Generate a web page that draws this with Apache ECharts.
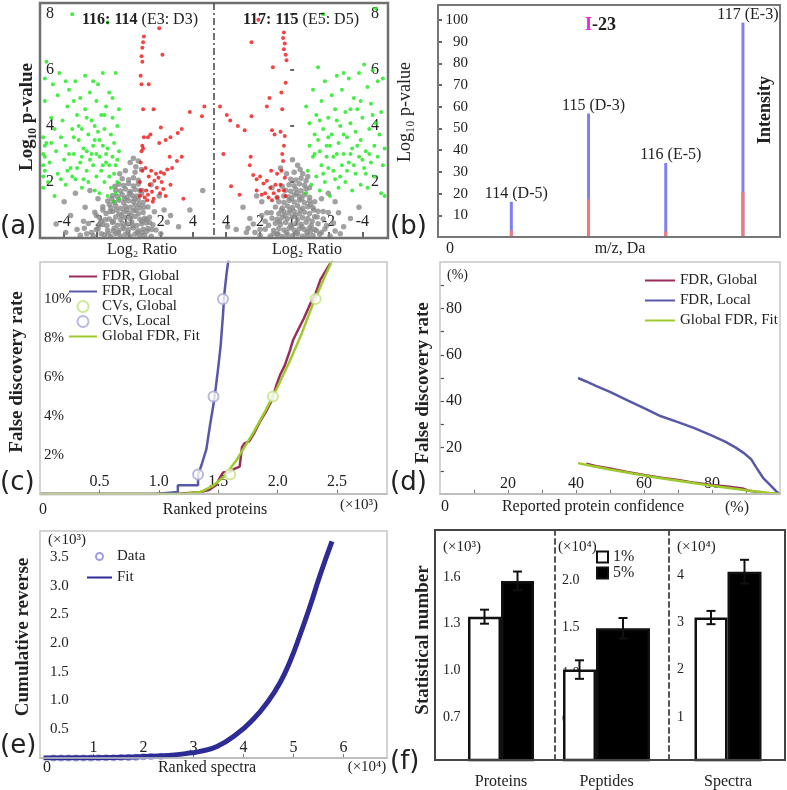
<!DOCTYPE html>
<html><head><meta charset="utf-8">
<script src="https://cdn.jsdelivr.net/npm/echarts@6/dist/echarts.min.js"></script>
<style>html,body{margin:0;padding:0;background:#fff}#c{width:787px;height:790px}</style>
</head><body><div id="c"></div>
<script>
// ---------- (a) volcano plots ----------
const aTicksX = [-4, -2, 0, 2, 4];
const aTicksY = [2, 4, 6, 8];
const grayL = [
[-2.2,0.08],[-1.5,0.12],[-1.1,0.05],[-0.8,0.15],[-0.5,0.07],[-0.2,0.13],[0.1,0.06],[0.4,0.14],[0.7,0.09],[1.0,0.11],[1.4,0.06],[2.0,0.15],
[-1.9,0.32],[-1.3,0.28],[-0.9,0.35],[-0.6,0.27],[-0.3,0.33],[0.0,0.3],[0.3,0.36],[0.6,0.26],[0.9,0.31],[1.2,0.34],[1.7,0.29],
[-2.5,0.52],[-1.6,0.48],[-1.0,0.55],[-0.7,0.46],[-0.4,0.53],[-0.1,0.5],[0.2,0.57],[0.5,0.45],[0.8,0.51],[1.1,0.54],[1.5,0.47],[2.4,0.56],
[-1.8,0.72],[-1.2,0.68],[-0.8,0.75],[-0.5,0.66],[-0.2,0.73],[0.1,0.7],[0.4,0.77],[0.7,0.67],[1.0,0.71],[1.3,0.74],
[-2.1,0.92],[-1.4,0.88],[-1.0,0.95],[-0.6,0.86],[-0.3,0.93],[0.0,0.9],[0.3,0.97],[0.6,0.87],[0.9,0.91],[1.6,0.94],
[-1.6,1.12],[-1.1,1.08],[-0.8,1.15],[-0.5,1.06],[-0.2,1.13],[0.1,1.1],[0.4,1.17],[0.7,1.07],[1.2,1.11],
[-1.3,1.32],[-0.9,1.28],[-0.6,1.35],[-0.3,1.26],[0.0,1.33],[0.3,1.3],[0.6,1.36],[0.9,1.27],
[-1.0,1.52],[-0.7,1.48],[-0.4,1.55],[-0.1,1.46],[0.2,1.53],[0.5,1.5],[0.8,1.56],
[-0.8,1.72],[-0.5,1.68],[-0.2,1.75],[0.1,1.66],[0.4,1.73],[0.7,1.7],
[-0.6,1.92],[-0.3,1.88],[0.0,1.95],[0.3,1.86],[0.6,1.93],
[-0.4,2.12],[0.0,2.08],[0.3,2.15],[0.6,2.06],
[-0.2,2.4],[0.4,2.35],[0.8,2.45],[0.1,2.7],[0.6,2.75],
[-4.0,1.3],[-3.6,0.8],[-3.2,0.3],[-2.8,0.6],[-2.7,1.1],[-3.9,0.2],[-4.5,0.5],[2.6,0.8],[3.1,0.4],[2.2,1.0],[1.9,1.5],[3.8,1.0],[4.6,1.7],[1.4,1.9],[-1.9,1.4],[-2.4,1.7],[-3.3,1.6],
[-0.65,0.2],[-0.35,0.4],[-0.05,0.2],[0.25,0.45],[0.55,0.2],[-0.45,0.8],[-0.15,1.0],[0.15,0.8],[0.45,1.0],[-0.25,1.4],[0.05,1.6],[0.35,1.4],[-0.95,0.6],[0.85,0.6],[-0.75,1.0],[0.65,1.2],
[-2.0,0.3],[-2.3,0.2],[-1.7,0.6],[-2.0,0.8],[-1.35,0.45],[-1.15,0.95],[-1.45,0.65],[-2.6,0.15],[-3.0,0.1],[-1.7,0.15],[-1.25,0.15],[-0.95,0.25],[0.85,0.2],[1.15,0.25],[1.3,0.55],[1.45,0.3],[-1.2,1.2],[-1.05,1.4],[0.95,1.1],[1.1,0.65],[-0.55,2.3],[0.45,2.55],[0.3,2.85],[-0.85,1.85],[0.85,1.7],[-1.6,1.0],[-1.85,0.45],[-2.75,0.35]
];
const greenL = [
[-5.3,1.8],[-5.3,2.2],[-5.3,2.6],[-5.3,3.0],[-5.2,3.3],[-5.3,3.6],[-5.2,2.4],[-5.2,2.9],[-5.1,3.4],[-5.2,4.9],[-5.2,5.7],[-5.1,6.3],[-5.0,2.0],[-4.9,2.7],[-4.8,3.4],[-4.7,5.5],[-4.6,1.5],[-4.5,3.1],[-4.4,2.3],[-4.3,5.9],[-4.2,3.6],[-4.1,4.2],[-4.0,2.8],[-3.9,1.9],[-3.9,3.3],[-3.8,4.7],[-3.7,5.3],[-3.6,2.5],[-3.5,3.9],[-3.4,3.0],[-3.3,5.6],[-3.3,2.1],[-3.2,4.4],[-3.1,3.5],[-3.0,2.7],[-3.0,5.0],[-2.9,1.8],[-2.9,3.9],[-2.8,3.2],[-2.7,4.6],[-2.7,5.8],[-2.6,2.4],[-2.5,3.7],[-2.5,2.0],[-2.4,5.2],[-2.3,3.0],[-2.3,4.2],[-2.2,2.6],[-2.1,1.7],[-2.1,3.5],[-2.0,4.9],[-2.0,2.2],[-1.9,3.8],[-1.9,5.5],[-1.8,2.9],[-1.8,1.6],[-1.7,4.4],[-1.7,2.4],[-1.6,3.3],[-1.6,5.9],[-1.5,2.0],[-1.5,3.9],[-1.4,2.7],[-1.4,4.7],[-1.3,1.5],[-1.3,3.2],[-1.2,2.2],[-1.2,5.2],[-1.1,3.7],[-1.1,1.8],[-1.0,2.9],[-1.0,4.3],[-0.9,2.3],[-0.9,3.4],[-0.8,1.6],[-0.8,5.9],[-0.7,2.8],[-0.7,4.0],[-0.6,1.4],[-0.6,3.1],[-0.6,4.6],[-0.7,2.0],[-0.8,2.6],[-0.9,1.3],
[-3.7,3.0],[-3.5,2.2],[-3.2,2.5],[-2.8,2.1],[-2.6,3.1],[-2.4,2.8],[-2.2,3.3],[-2.0,3.0],[-1.8,3.5],[-1.6,2.6],[-1.4,3.0],[-1.2,2.6],[-2.9,2.9],[-3.4,3.6],[-3.8,2.4],[-4.2,2.1],[-4.6,3.9],[-4.8,4.3],[-3.1,4.0],[-2.6,4.3],[-2.1,4.0],[-1.5,4.4],[-4.4,5.1],[-3.9,5.6],[-3.4,4.9],[-2.2,5.6],[-1.0,5.0],[-3.5,8.0],[-1.3,7.7]
];
const redL = [
[0.95,7.2],[0.9,7.0],[0.85,6.8],[0.8,6.5],[0.85,6.3],[0.75,5.8],[0.8,5.5],[0.9,4.6],[0.95,3.6],[0.85,3.3],[0.9,3.2],[0.8,3.1],[0.75,2.7],[0.85,2.4],[0.7,2.0],[0.75,1.7],[0.7,1.5],
[1.25,5.5],[1.55,4.6],[1.2,3.6],[1.35,3.7],
[4.7,4.7],[4.55,4.35],[3.8,4.5],[3.3,3.9],[3.05,3.75],[2.6,3.6],[2.3,3.5],[2.0,3.95],[1.9,3.4],[2.55,2.9],[3.3,2.9],[3.0,2.75],[2.7,2.5],[2.4,2.45],[2.2,2.3],
[1.9,7.5],[2.1,6.55],
[1.0,1.45],[1.1,1.7],[1.2,1.55],[1.3,1.9],[1.45,1.65],[1.55,1.4],[1.6,2.05],[1.75,1.8],[1.85,2.15],[1.95,1.6],[2.05,2.0],[2.15,1.75],[1.25,2.2],[1.05,2.5],[1.4,2.4],[1.7,2.3],[2.0,2.35],[2.3,1.5],[1.5,1.3],[2.6,1.9],[3.4,1.4],[1.15,1.35]
];
const grayR = [
[2.0,0.1],[1.4,0.07],[1.0,0.13],[0.7,0.05],[0.4,0.12],[0.1,0.08],[-0.2,0.14],[-0.5,0.06],[-0.8,0.11],[-1.1,0.09],[-1.5,0.13],[-2.1,0.07],
[1.7,0.31],[1.2,0.27],[0.9,0.34],[0.6,0.29],[0.3,0.35],[0.0,0.28],[-0.3,0.33],[-0.6,0.3],[-0.9,0.36],[-1.3,0.26],[-1.8,0.32],
[2.4,0.5],[1.5,0.46],[1.1,0.53],[0.8,0.48],[0.5,0.55],[0.2,0.47],[-0.1,0.52],[-0.4,0.49],[-0.7,0.56],[-1.0,0.45],[-1.4,0.51],[-2.3,0.54],
[1.3,0.71],[1.0,0.67],[0.7,0.74],[0.4,0.69],[0.1,0.75],[-0.2,0.66],[-0.5,0.72],[-0.8,0.7],[-1.2,0.76],[-1.7,0.68],
[1.6,0.9],[0.9,0.87],[0.6,0.94],[0.3,0.89],[0.0,0.95],[-0.3,0.86],[-0.6,0.92],[-0.9,0.88],[-1.4,0.96],[-2.0,0.91],
[1.1,1.11],[0.7,1.07],[0.4,1.14],[0.1,1.09],[-0.2,1.15],[-0.5,1.06],[-0.8,1.12],[-1.1,1.08],
[0.9,1.3],[0.6,1.27],[0.3,1.34],[0.0,1.29],[-0.3,1.35],[-0.6,1.26],[-0.9,1.32],
[0.6,1.5],[0.3,1.47],[0.0,1.54],[-0.3,1.49],[-0.6,1.55],[-0.9,1.46],
[0.5,1.71],[0.2,1.67],[-0.1,1.74],[-0.4,1.69],[-0.7,1.75],
[0.3,1.9],[0.0,1.87],[-0.3,1.94],[-0.6,1.89],
[0.2,2.1],[-0.1,2.07],[-0.4,2.14],[-0.7,2.05],
[0.0,2.35],[-0.5,2.3],[-0.2,2.6],
[3.0,1.1],[2.6,0.7],[3.4,0.3],[2.2,1.5],[1.9,1.3],[2.8,0.2],[3.9,0.4],[-2.6,0.9],[-2.9,0.4],[-2.4,1.3],[-2.0,1.6],[-3.3,0.7],[-1.6,1.4],[1.3,1.8],[0.8,2.5],[-3.8,1.1],
[0.45,0.2],[0.15,0.4],[-0.15,0.2],[-0.45,0.4],[-0.75,0.2],[0.55,0.8],[0.25,1.0],[-0.05,0.8],[-0.35,1.0],[0.15,1.4],[-0.15,1.6],[-0.45,1.4],[0.85,0.6],[-1.05,0.6],[0.75,1.0],[-0.95,1.2],
[2.0,0.3],[2.3,0.2],[1.7,0.6],[-1.6,0.2],[-1.9,0.45],[-1.2,0.3],[-2.4,0.25],[1.2,0.15],[-1.35,0.75],[-1.15,1.0],[1.35,0.9],[1.0,1.45],[-1.2,1.3],[0.7,1.85],[-0.9,1.8],[0.45,2.3],[-0.35,2.45],[-0.8,2.2],[0.1,2.8],[-2.7,0.15],[2.7,0.35],[-1.7,0.95],[1.9,0.8],[0.95,0.15],[-0.95,0.25]
];
const greenR = [
[-0.7,1.6],[-0.8,2.4],[-0.9,3.3],[-0.7,4.7],[-0.9,4.1],[-1.0,1.9],[-1.1,2.9],[-1.1,5.3],[-1.2,3.7],[-1.3,2.2],[-1.3,4.4],[-1.4,6.1],[-1.5,3.1],[-1.5,1.7],[-1.6,2.6],[-1.6,4.9],[-1.7,3.9],[-1.8,2.0],[-1.8,5.6],[-1.9,3.3],[-2.0,4.3],[-2.0,2.5],[-2.1,1.5],[-2.2,3.7],[-2.2,5.1],[-2.3,2.9],[-2.4,4.6],[-2.4,2.1],[-2.5,5.8],[-2.6,3.4],[-2.6,1.8],[-2.7,4.0],[-2.8,2.6],[-2.8,5.3],[-2.9,3.0],[-3.0,4.5],[-3.0,2.0],[-3.1,3.6],[-3.2,5.7],[-3.2,2.7],[-3.3,4.1],[-3.4,1.7],[-3.4,3.2],[-3.5,5.0],[-3.6,2.3],[-3.6,3.8],[-3.7,4.6],[-3.8,2.9],[-3.8,5.9],[-3.9,1.9],[-3.9,3.5],[-4.0,4.3],[-4.1,2.5],[-4.1,6.2],[-4.2,3.1],[-4.3,5.4],[-4.3,1.8],[-4.4,3.9],[-4.5,2.7],[-4.5,4.8],[-4.6,6.0],[-4.7,3.3],[-4.7,2.2],[-4.8,4.1],[-4.9,5.6],[-4.9,2.9],[-5.0,3.7],[-5.1,1.6],[-5.1,4.5],[-5.2,2.6],[-5.2,5.7],[-5.3,3.2],[-5.3,1.5],
[-1.2,3.0],[-1.4,3.5],[-1.7,2.3],[-1.9,2.9],[-2.1,3.3],[-2.3,2.4],[-2.5,3.0],[-2.7,2.2],[-2.9,3.7],[-3.1,2.4],[-3.3,3.0],[-3.5,2.6],[-3.7,3.3],[-4.0,2.8],[-4.2,2.3],[-4.4,3.0],[-2.0,3.6],[-2.5,4.2],[-3.3,4.6],[-3.9,4.9],[-4.6,4.4],[-1.5,4.2],[-2.9,5.9],[-4.8,8.2],[-1.7,8.0]
];
const redR = [
[0.6,7.35],[0.65,7.15],[0.55,6.95],[0.6,6.75],[0.5,6.55],[0.45,6.35],[0.5,5.55],[0.75,5.2],[0.7,4.6],[0.8,3.8],[0.55,3.65],[0.6,3.3],[0.7,3.0],[0.65,2.75],[0.75,2.4],[0.55,2.15],[0.8,1.9],[0.6,1.7],[0.5,1.5],
[2.1,7.8],[2.5,7.0],[1.25,6.1],[1.45,5.0],[1.6,4.7],[4.35,4.7],[3.95,4.4],[3.75,4.2],[3.3,4.0],[2.9,3.85],[2.5,4.35],[1.3,3.85],[1.15,3.7],[4.15,3.0],[2.55,2.9],
[2.4,2.25],[2.2,2.1],[2.0,2.2],[1.8,1.95],[1.6,2.05],[1.4,1.8],[1.2,1.6],[1.0,1.45],[1.7,1.6],[1.5,1.45],[1.3,1.35],[1.9,1.55],[1.1,1.9],[0.9,1.7],[2.2,1.7],[1.0,2.3],[3.7,1.85],[3.2,1.55],[1.35,2.4],[2.6,2.6]
];
// ---------- (b) reporter ion intensities ----------
const bPos = [114, 115, 116, 117];
const bTotal = [16.2, 56.9, 34.1, 98.8];
const bRed = [3, 17.4, 2.5, 20.8];
const bNames = ['114 (D-5)', '115 (D-3)', '116 (E-5)', '117 (E-3)'];
const bTicksY = [10, 20, 30, 40, 50, 60, 70, 80, 90, 100];
// ---------- (c) FDR vs ranked proteins (x10^3, %) ----------
const cTicksX = [0.5, 1.0, 1.5, 2.0, 2.5];
const cTicksY = [2, 4, 6, 8, 10];
const cFdrGlobal = [[0,0],[0.98,0],[1.2,0.02],[1.35,0.1],[1.42,0.2],[1.48,0.45],[1.52,0.9],[1.54,1.1],[1.6,1.15],[1.64,1.3],[1.68,1.4],[1.7,2.4],[1.72,2.6],[1.76,2.7],[1.8,3.1],[1.85,3.7],[1.9,4.2],[1.95,4.8],[1.99,5.6],[2.02,6.1],[2.06,6.6],[2.1,7.3],[2.13,7.9],[2.17,8.4],[2.22,9.0],[2.27,9.7],[2.32,10.3],[2.36,11.0],[2.4,11.4],[2.45,11.9]];
const cFdrLocal = [[0,0],[0.97,0],[0.97,0.1],[1.16,0.1],[1.16,0.45],[1.33,0.45],[1.33,1.0],[1.36,1.5],[1.40,2.3],[1.43,3.5],[1.46,4.6],[1.48,5.5],[1.50,6.5],[1.52,7.6],[1.54,9.2],[1.55,10.2],[1.57,11.3],[1.59,12.2]];
const cFit = [[0,0],[1.2,0],[1.35,0.1],[1.45,0.4],[1.55,0.9],[1.65,1.7],[1.7,2.2],[1.8,3.2],[1.9,4.3],[2.0,5.5],[2.1,6.8],[2.2,8.2],[2.3,9.8],[2.4,11.2],[2.46,12.0]];
const cCvGlobal = [[1.6,1.0],[1.96,5.0],[2.32,10.0]];
const cCvLocal = [[1.33,1.0],[1.46,5.0],[1.54,10.0]];
// ---------- (d) FDR vs reported confidence ----------
const dTicks = [20, 40, 60, 80];
const dMinor = [10, 20, 30, 40, 50, 60, 70, 80, 90];
const dLocal = [[40.6,50],[43,48.5],[46,46.5],[50,44],[55,40.5],[60,37],[65,33.5],[70,31],[75,28.3],[80,25.2],[84,22.5],[87,20],[89.5,17.5],[91.5,15],[93,11.5],[95,7],[97,4],[99,1],[100,0]];
const dGlobal = [[43,13],[46,12],[50,11],[55,9.5],[60,8.2],[65,7],[70,6],[75,4.8],[80,3.9],[85,3.1],[89,2.4],[90.5,1.5],[91,2.0],[93,1.0],[95,0.8],[96,0.2],[100,0]];
const dFit = [[40.6,13.3],[45,12],[50,10.6],[55,9.3],[60,8],[65,6.8],[70,5.7],[75,4.6],[80,3.6],[85,2.6],[90,1.6],[94,0.9],[97,0.4],[100,0]];
// ---------- (e) cumulative reverse ----------
const eTicksX = [1, 2, 3, 4, 5, 6];
const eTicksY = [0.5, 1.0, 1.5, 2.0, 2.5, 3.0, 3.5];
const eData = [[0.2,0],[0.35,0],[0.5,0],[0.65,0],[0.8,0],[0.95,0],[1.1,0.005],[1.25,0.005],[1.4,0.005],[1.55,0.01],[1.7,0.01],[1.85,0.015],[2.0,0.02],[2.15,0.025],[2.35,0.03]];
const eFit = [[0,0],[1,0.005],[2,0.025],[2.5,0.045],[2.97,0.09],[3.13,0.115],[3.47,0.2],[3.87,0.42],[4.2,0.68],[4.47,0.96],[4.73,1.31],[4.93,1.68],[5.13,2.14],[5.33,2.64],[5.53,3.18],[5.77,3.77]];
// ---------- (f) statistics ----------
const fCats = ['Proteins', 'Peptides', 'Spectra'];
const f1 = [1.345, 1.04, 3.1];
const f1Err = [0.045, 0.1, 0.14];
const f5 = [1.575, 1.486, 4.07];
const f5Err = [0.06, 0.11, 0.25];
const fTicks = [[0.7, 1.0, 1.3, 1.6], [0.5, 1.0, 1.5, 2.0], [1, 2, 3, 4]];
const fUnits = ['(×10³)', '(×10⁴)', '(×10⁴)'];

// ================= chart =================
const SERIF = 'Liberation Serif';
const INK = '#222';
const chart = echarts.init(document.getElementById('c'), null, {renderer: 'canvas'});

const grids = [
  {left: 40, top: 3, width: 174, height: 235},
  {left: 214, top: 3, width: 174, height: 235},
  {left: 438, top: 5, width: 342, height: 232},
  {left: 40, top: 262, width: 347, height: 232},
  {left: 440, top: 262, width: 340, height: 232},
  {left: 40, top: 531, width: 347, height: 227},
  {left: 435, top: 530, width: 132, height: 230},
  {left: 555, top: 530, width: 103, height: 230},
  {left: 669, top: 530, width: 118, height: 230}
].map(g => Object.assign({outerBoundsMode: 'none', containLabel: false}, g));

const noLine = {show: false};
const noSplit = {show: false};
function lab(o) { return Object.assign({color: INK, fontFamily: SERIF, fontSize: 15, inside: true}, o); }
function tk(o) { return Object.assign({inside: true, length: 5, lineStyle: {color: '#333', width: 1.5}}, o); }
const f1d = v => (Math.round(v * 10) / 10).toFixed(1);

const xAxis = [
  {gridIndex: 0, type: 'value', min: -5.5, max: 5.3, axisLine: noLine, splitLine: noSplit,
   axisTick: tk({length: 6, customValues: aTicksX}), axisLabel: lab({margin: 8, fontSize: 16, customValues: aTicksX})},
  {gridIndex: 1, type: 'value', min: -5.5, max: 4.7, inverse: true, axisLine: noLine, splitLine: noSplit,
   axisTick: tk({length: 6, customValues: aTicksX}), axisLabel: lab({margin: 8, fontSize: 16, customValues: aTicksX})},
  {gridIndex: 2, type: 'value', min: 113.05, max: 117.48, axisLine: noLine, splitLine: noSplit, axisTick: {show: false}, axisLabel: {show: false}},
  {gridIndex: 3, type: 'value', min: 0, max: 2.92, axisLine: {show: true, lineStyle: {color: '#888', width: 1.5}}, splitLine: noSplit,
   axisTick: tk({length: 4, customValues: cTicksX, lineStyle: {color: '#777', width: 1}}), axisLabel: lab({margin: 4, fontSize: 16, customValues: cTicksX, formatter: f1d})},
  {gridIndex: 4, type: 'value', min: 0, max: 100, axisLine: {show: true, lineStyle: {color: '#888', width: 1.5}}, splitLine: noSplit,
   axisTick: tk({length: 4, customValues: dMinor, lineStyle: {color: '#777', width: 1}}), axisLabel: lab({margin: 2, fontSize: 16, customValues: dTicks})},
  {gridIndex: 5, type: 'value', min: -0.07, max: 6.87, axisLine: {show: true, lineStyle: {color: '#888', width: 1.5}}, splitLine: noSplit,
   axisTick: tk({length: 4, customValues: eTicksX, lineStyle: {color: '#777', width: 1}}), axisLabel: lab({margin: 2, fontSize: 16, customValues: eTicksX})},
  ...[0, 1, 2].map(i => ({gridIndex: 6 + i, type: 'category', data: [fCats[i]], axisLine: noLine, axisTick: {show: false}, splitLine: noSplit,
   axisLabel: {color: INK, fontFamily: SERIF, fontSize: 16, margin: 14}}))
];

const yAxis = [
  {gridIndex: 0, type: 'value', min: 0, max: 8.4, axisLine: noLine, splitLine: noSplit, axisTick: {show: false},
   axisLabel: lab({margin: 6, fontSize: 16, customValues: aTicksY})},
  {gridIndex: 1, type: 'value', min: 0, max: 8.4, position: 'right', axisLine: noLine, splitLine: noSplit,
   axisTick: tk({length: 4, customValues: aTicksY}), axisLabel: lab({margin: 9, fontSize: 16, customValues: aTicksY})},
  {gridIndex: 2, type: 'value', min: 0, max: 106.9, axisLine: noLine, splitLine: noSplit,
   axisTick: tk({length: 4, customValues: bTicksY, lineStyle: {color: '#333', width: 1.5}}),
   axisLabel: lab({margin: 30, align: 'right', fontSize: 15, customValues: bTicksY})},
  {gridIndex: 3, type: 'value', min: 0, max: 11.9, axisLine: noLine, splitLine: noSplit, axisTick: {show: false},
   axisLabel: lab({margin: 4, fontSize: 15, customValues: cTicksY, formatter: v => v + '%'})},
  {gridIndex: 4, type: 'value', min: 0, max: 100, axisLine: noLine, splitLine: noSplit,
   axisTick: tk({length: 4, customValues: dMinor, lineStyle: {color: '#555', width: 1.2}}), axisLabel: lab({margin: 6, fontSize: 16, customValues: dTicks})},
  {gridIndex: 5, type: 'value', min: 0, max: 3.95, axisLine: noLine, splitLine: noSplit, axisTick: {show: false},
   axisLabel: lab({margin: 10, fontSize: 15, customValues: eTicksY, formatter: f1d})},
  {gridIndex: 6, type: 'value', min: 0.424, max: 1.902, axisLine: noLine, splitLine: noSplit,
   axisTick: tk({length: 4, customValues: fTicks[0]}), axisLabel: lab({margin: 8, fontSize: 14, customValues: fTicks[0], formatter: f1d})},
  {gridIndex: 7, type: 'value', min: 0.065, max: 2.545, splitLine: noSplit,
   axisLine: {show: true, lineStyle: {color: '#555', width: 2, type: [5, 4]}},
   axisTick: tk({length: 4, customValues: fTicks[1]}), axisLabel: lab({margin: 7, fontSize: 14, customValues: fTicks[1], formatter: f1d})},
  {gridIndex: 8, type: 'value', min: 0.09, max: 4.95, splitLine: noSplit,
   axisLine: {show: true, lineStyle: {color: '#555', width: 2, type: [5, 4]}},
   axisTick: tk({length: 4, customValues: fTicks[2]}), axisLabel: lab({margin: 8, fontSize: 14, customValues: fTicks[2]})}
];

function sc(gi, data, color, size, name) {
  return {type: 'scatter', name: name || ('s' + gi + color), xAxisIndex: gi, yAxisIndex: gi, data, symbolSize: size,
    itemStyle: {color}, silent: true, animation: false};
}
function ln(gi, name, data, color, width, z) {
  return {type: 'line', name, xAxisIndex: gi, yAxisIndex: gi, data, symbol: 'none', smooth: false,
    lineStyle: {color, width}, itemStyle: {color}, z: z || 2, silent: true, animation: false};
}

const series = [
  sc(0, grayL, '#8a8a8a', 5.5), sc(0, greenL, '#18e818', 4), sc(0, redL, '#f01414', 4),
  sc(1, grayR, '#8a8a8a', 5.5), sc(1, greenR, '#18e818', 4), sc(1, redR, '#f01414', 4),
  {type: 'bar', name: 'bBlue', xAxisIndex: 2, yAxisIndex: 2, barWidth: 3, data: bPos.map((x, i) => [x, bTotal[i]]),
   itemStyle: {color: '#8080f4'}, animation: false,
   label: {show: true, position: 'top', distance: 0, offset: [5, 0], color: INK, fontFamily: SERIF, fontSize: 16,
     formatter: p => bNames[p.dataIndex]}},
  {type: 'bar', name: 'bRed', xAxisIndex: 2, yAxisIndex: 2, barWidth: 3, barGap: '-100%', data: bPos.map((x, i) => [x, bRed[i]]),
   itemStyle: {color: '#f07a7a'}, animation: false, z: 3},
  ln(3, 'FDR, Global', cFdrGlobal, '#9a2c5c', 2.5, 3),
  ln(3, 'FDR, Local', cFdrLocal, '#5858a8', 2.5, 3),
  ln(3, 'Global FDR, Fit', cFit, '#9ccc2c', 2.5, 4),
  {type: 'scatter', name: 'CVs, Global', xAxisIndex: 3, yAxisIndex: 3, data: cCvGlobal, symbol: 'emptyCircle', symbolSize: 10,
   itemStyle: {color: '#c2e27e', borderWidth: 1.8}, z: 5, animation: false},
  {type: 'scatter', name: 'CVs, Local', xAxisIndex: 3, yAxisIndex: 3, data: cCvLocal, symbol: 'emptyCircle', symbolSize: 10,
   itemStyle: {color: '#a8a8d6', borderWidth: 1.8}, z: 5, animation: false},
  ln(4, 'FDR, Global', dGlobal, '#9a2c5c', 2.5, 3),
  ln(4, 'FDR, Local', dLocal, '#5858a8', 2.5, 3),
  ln(4, 'Global FDR, Fit', dFit, '#9ccc2c', 2.5, 4),
  {type: 'scatter', name: 'Data', xAxisIndex: 5, yAxisIndex: 5, data: eData, symbol: 'emptyCircle', symbolSize: 5,
   itemStyle: {color: '#8484d8', borderWidth: 1.5}, z: 2, animation: false},
  Object.assign(ln(5, 'Fit', eFit, '#2c2c94', 5, 3), {smooth: 0.5})
];

// (f) bars + error bars
const fWidths = [[33, 33], [33, 54], [33, 34]];
function errBar(gi, val, err, dx) {
  return {type: 'custom', xAxisIndex: gi, yAxisIndex: gi, data: [[0, val, err]], z: 10, silent: true, animation: false,
    renderItem: (params, api) => {
      const v = api.value(1), e = api.value(2);
      const x = api.coord([0, v])[0] + dx;
      const yt = api.coord([0, v + e])[1], yb = api.coord([0, v - e])[1];
      const st = {stroke: '#111', lineWidth: 2};
      return {type: 'group', children: [
        {type: 'line', shape: {x1: x, y1: yt, x2: x, y2: yb}, style: st},
        {type: 'line', shape: {x1: x - 4.5, y1: yt, x2: x + 4.5, y2: yt}, style: st},
        {type: 'line', shape: {x1: x - 4.5, y1: yb, x2: x + 4.5, y2: yb}, style: st}
      ]};
    }};
}
for (let i = 0; i < 3; i++) {
  const gi = 6 + i, wW = fWidths[i][0], wB = fWidths[i][1], tot = wW + wB;
  series.push({type: 'bar', name: '1%', xAxisIndex: gi, yAxisIndex: gi, data: [f1[i]], barWidth: wW, barGap: '0%',
    itemStyle: {color: '#ffffff', borderColor: '#111', borderWidth: 2.5}, animation: false});
  series.push({type: 'bar', name: '5%', xAxisIndex: gi, yAxisIndex: gi, data: [f5[i]], barWidth: wB, barGap: '0%',
    itemStyle: {color: '#000000', borderColor: '#111', borderWidth: 2.5}, animation: false});
  series.push(errBar(gi, f1[i], f1Err[i], -tot / 2 + wW / 2));
  series.push(errBar(gi, f5[i], f5Err[i], tot / 2 - wB / 2));
}

const legTxt = {color: INK, fontFamily: SERIF, fontSize: 15};
const noSym = {opacity: 0};
const legend = [
  {data: [{name: 'FDR, Global', itemStyle: noSym}, {name: 'FDR, Local', itemStyle: noSym}, 'CVs, Global', 'CVs, Local', {name: 'Global FDR, Fit', itemStyle: noSym}],
   orient: 'vertical', left: 68, top: 269, itemGap: 0, itemWidth: 28, itemHeight: 11, textStyle: legTxt, selectedMode: false, padding: 0},
  {data: [{name: 'FDR, Global', itemStyle: noSym}, {name: 'FDR, Local', itemStyle: noSym}, {name: 'Global FDR, Fit', itemStyle: noSym}],
   orient: 'vertical', left: 644, top: 273, itemGap: 5, itemWidth: 30, itemHeight: 12, textStyle: legTxt, selectedMode: false, padding: 0},
  {data: ['Data', {name: 'Fit', itemStyle: noSym}], orient: 'vertical', left: 86, top: 549, itemGap: 6, itemWidth: 25, itemHeight: 7,
   textStyle: legTxt, selectedMode: false, padding: 0},
  {data: ['1%', '5%'], orient: 'vertical', left: 596, top: 549, itemGap: 0, itemWidth: 11, itemHeight: 11,
   textStyle: Object.assign({}, legTxt, {fontSize: 16}), selectedMode: false, padding: 0, icon: 'rect'}
];

function T(x, y, text, o) {
  return {type: 'text', x, y, z: 50, style: Object.assign({text, fill: INK, fontFamily: SERIF, fontSize: 16, align: 'left', verticalAlign: 'middle'}, o)};
}
function R(x, y, text, o) {
  const t = T(x, y, text, Object.assign({align: 'center'}, o));
  t.rotation = Math.PI / 2;
  return t;
}
function P(x, y, text) { return T(x, y, text, {fontFamily: 'DejaVu Sans', fontSize: 26, fill: '#222'}); }
function frame(x, y, w, h, stroke, lw) {
  return {type: 'rect', z: 40, shape: {x, y, width: w, height: h}, style: {fill: 'none', stroke, lineWidth: lw}};
}

const graphic = [
  // (a)
  frame(40, 3, 348, 235, '#707070', 2.5),
  {type: 'line', z: 40, shape: {x1: 214, y1: 3, x2: 214, y2: 238}, style: {stroke: '#444', lineWidth: 1.5, lineDash: [7, 3, 2, 3]}},
  T(82, 20, '{b|116: 114} (E3: D3)', {rich: {b: {fontWeight: 'bold', fontFamily: SERIF, fontSize: 16, fill: INK}}}),
  T(243, 20, '{b|117: 115} (E5: D5)', {rich: {b: {fontWeight: 'bold', fontFamily: SERIF, fontSize: 16, fill: INK}}}),
  R(27, 117, 'Log₁₀ p-value', {fontSize: 19, fontWeight: 'bold'}),
  T(142, 250, 'Log₂ Ratio', {align: 'center'}),
  T(307, 250, 'Log₂ Ratio', {align: 'center'}),
  P(0, 227, '(a)'),
  // (b)
  frame(438, 5, 342, 232, '#777', 2),
  R(405, 112, 'Log₁₀ p-value', {fontSize: 18}),
  R(765, 110, 'Intensity', {fontSize: 18, fontWeight: 'bold'}),
  T(585, 25, '{m|I}{k|-23}', {rich: {m: {fill: '#ee22dd', fontWeight: 'bold', fontFamily: SERIF, fontSize: 18}, k: {fill: INK, fontWeight: 'bold', fontFamily: SERIF, fontSize: 18}}}),
  T(446, 249, '0'),
  T(620, 249, 'm/z, Da', {align: 'center'}),
  P(390, 227, '(b)'),
  // (c)
  frame(40, 262, 347, 232, '#c6c6c6', 1.5),
  R(17, 372, 'False discovery rate', {fontSize: 19, fontWeight: 'bold'}),
  T(39, 510, '0'),
  T(215, 510, 'Ranked proteins', {align: 'center'}),
  T(359, 505, '(×10³)', {align: 'center', fontSize: 15}),
  P(0, 483, '(c)'),
  // (d)
  frame(440, 262, 340, 232, '#c6c6c6', 1.5),
  R(423, 383, 'False discovery rate', {fontSize: 19, fontWeight: 'bold'}),
  T(447, 275, '(%)', {fontSize: 14}),
  T(441, 507, '0'),
  T(593, 507, 'Reported protein confidence', {align: 'center'}),
  T(737, 508, '(%)', {align: 'center'}),
  P(390, 483, '(d)'),
  // (e)
  frame(40, 531, 347, 227, '#c6c6c6', 1.5),
  R(23, 637, 'Cumulative reverse', {fontSize: 19, fontWeight: 'bold'}),
  T(48, 540, '(×10³)', {fontSize: 15}),
  T(43, 768, '0'),
  T(207, 768, 'Ranked spectra', {align: 'center'}),
  T(367, 767, '(×10⁴)', {align: 'center', fontSize: 15}),
  P(0, 746, '(e)'),
  // (f)
  frame(435, 530, 350, 230, '#444', 2),
  R(423, 640, 'Statistical number', {fontSize: 19, fontWeight: 'bold'}),
  T(443, 547, fUnits[0], {fontSize: 15}),
  T(558, 547, fUnits[1], {fontSize: 15}),
  T(677, 547, fUnits[2], {fontSize: 15}),
  P(390, 762, '(f)')
];

chart.setOption({
  animation: false,
  backgroundColor: '#fff',
  textStyle: {fontFamily: SERIF},
  grid: grids, xAxis, yAxis, series, legend, graphic
});
</script></body></html>
